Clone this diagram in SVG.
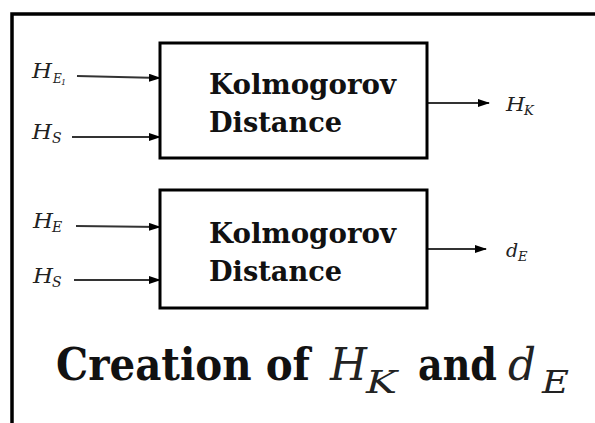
<svg xmlns="http://www.w3.org/2000/svg" width="595" height="423" viewBox="0 0 595 423">
<style>
.box{fill:#fff;stroke:#000;stroke-width:3}
.lbl{font-family:"DejaVu Serif","Liberation Serif",serif;font-weight:bold;fill:#111}
.math{font-family:"DejaVu Serif","Liberation Serif",serif;font-style:italic;fill:#222}
.conn{stroke:#333;stroke-width:2;fill:none;marker-end:url(#arr)}
</style>
<defs>
<marker id="arr" markerUnits="userSpaceOnUse" markerWidth="12" markerHeight="8" refX="11" refY="4" orient="auto">
<path d="M0,0 L12,4 L0,8 z" fill="#000"/>
</marker>
</defs>
<rect width="595" height="423" fill="#fff"/>
<path d="M12 423 V14 H595" fill="none" stroke="#000" stroke-width="3.5"/>
<g id="connectors">
<line class="conn" x1="77" y1="76" x2="160" y2="78"/>
<line class="conn" x1="72" y1="137" x2="160" y2="137"/>
<line class="conn" x1="76" y1="226" x2="160" y2="227"/>
<line class="conn" x1="74" y1="280" x2="160" y2="280"/>
<line class="conn" x1="427" y1="103" x2="489" y2="103"/>
<line class="conn" x1="425" y1="249" x2="486" y2="249"/>
</g>
<g id="box1">
<rect class="box" x="160" y="43" width="267" height="115"/>
<text class="lbl" x="209" y="94" font-size="27" textLength="187" lengthAdjust="spacingAndGlyphs">Kolmogorov</text>
<text class="lbl" x="209" y="132" font-size="27" textLength="133" lengthAdjust="spacingAndGlyphs">Distance</text>
</g>
<g id="box2">
<rect class="box" x="160" y="190" width="267" height="118"/>
<text class="lbl" x="209" y="243" font-size="27" textLength="187" lengthAdjust="spacingAndGlyphs">Kolmogorov</text>
<text class="lbl" x="209" y="281" font-size="27" textLength="133" lengthAdjust="spacingAndGlyphs">Distance</text>
</g>
<g id="in-HE1">
<text class="math" x="32" y="78" font-size="20" textLength="20" lengthAdjust="spacingAndGlyphs">H</text>
<text class="math" x="53" y="83" font-size="12">E</text>
<text class="math" x="61" y="85" font-size="8" font-style="normal">1</text>
</g>
<g id="in-HS1">
<text class="math" x="32" y="139" font-size="20" textLength="20" lengthAdjust="spacingAndGlyphs">H</text>
<text class="math" x="52" y="143" font-size="14">S</text>
</g>
<g id="in-HE">
<text class="math" x="33" y="228" font-size="20" textLength="20" lengthAdjust="spacingAndGlyphs">H</text>
<text class="math" x="52" y="232" font-size="14">E</text>
</g>
<g id="in-HS2">
<text class="math" x="33" y="283" font-size="20" textLength="20" lengthAdjust="spacingAndGlyphs">H</text>
<text class="math" x="52" y="287" font-size="14">S</text>
</g>
<g id="out-HK">
<text class="math" x="506" y="111" font-size="19" textLength="19" lengthAdjust="spacingAndGlyphs">H</text>
<text class="math" x="524" y="115" font-size="13">K</text>
</g>
<g id="out-dE">
<text class="math" x="506" y="257" font-size="19">d</text>
<text class="math" x="518" y="261" font-size="13">E</text>
</g>
<g id="title">
<text class="lbl" x="56" y="380" font-size="44" textLength="254" lengthAdjust="spacingAndGlyphs">Creation of</text>
<text class="math" x="330" y="380" font-size="44" fill="#111" textLength="37" lengthAdjust="spacingAndGlyphs">H</text>
<text class="math" x="366" y="393" font-size="31" fill="#111" textLength="31" lengthAdjust="spacingAndGlyphs">K</text>
<text class="lbl" x="418" y="380" font-size="44" textLength="79" lengthAdjust="spacingAndGlyphs">and</text>
<text class="math" x="508" y="380" font-size="44" fill="#111" textLength="28" lengthAdjust="spacingAndGlyphs">d</text>
<text class="math" x="542" y="393" font-size="31" fill="#111" textLength="27" lengthAdjust="spacingAndGlyphs">E</text>
</g>
</svg>
